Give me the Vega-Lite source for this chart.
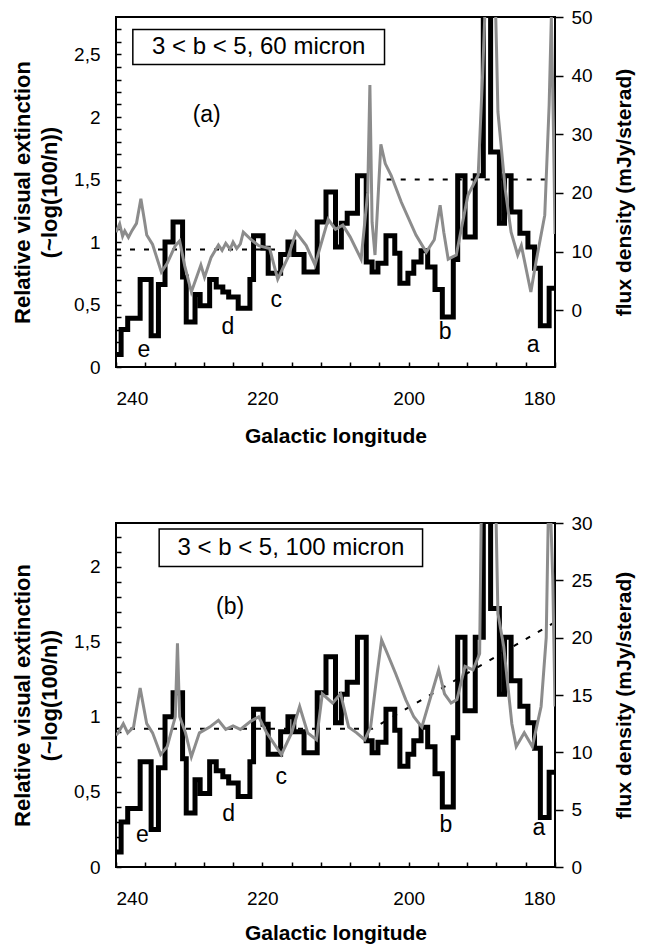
{
  "$schema": "https://vega.github.io/schema/vega-lite/v6.json",
  "padding": {"left": 10, "top": 7, "right": 0, "bottom": 0},
  "spacing": 66,
  "config": {
    "view": {"stroke": "black", "strokeWidth": 2},
    "font": "Liberation Sans",
    "axis": {"labelFont": "Liberation Sans", "titleFont": "Liberation Sans", "labelColor": "black", "titleColor": "black", "tickColor": "black", "tickWidth": 1.5, "domain": false, "grid": false, "labelFontSize": 19, "titleFontSize": 21, "titleFontWeight": "bold"}
  },
  "datasets": {
    "ext": [
      {"lon": 240, "v": 0.10}, {"lon": 239.3, "v": 0.30}, {"lon": 238.4, "v": 0.39}, {"lon": 236.7, "v": 0.70},
      {"lon": 235.2, "v": 0.25}, {"lon": 234.2, "v": 0.66}, {"lon": 233.3, "v": 1.0}, {"lon": 232.2, "v": 1.16},
      {"lon": 230.9, "v": 0.72}, {"lon": 230.4, "v": 0.36}, {"lon": 229.2, "v": 0.58}, {"lon": 228.5, "v": 0.49},
      {"lon": 227.2, "v": 0.70}, {"lon": 226.3, "v": 0.64}, {"lon": 225.4, "v": 0.60}, {"lon": 224.6, "v": 0.56},
      {"lon": 223.3, "v": 0.47}, {"lon": 221.7, "v": 0.70}, {"lon": 221.2, "v": 1.05}, {"lon": 219.9, "v": 0.95},
      {"lon": 219.2, "v": 0.75}, {"lon": 217.5, "v": 0.90}, {"lon": 216.5, "v": 1.0}, {"lon": 215.7, "v": 0.90},
      {"lon": 214.3, "v": 0.76}, {"lon": 212.5, "v": 1.16}, {"lon": 211.3, "v": 1.40}, {"lon": 210.0, "v": 0.96},
      {"lon": 209.2, "v": 1.15}, {"lon": 208.4, "v": 1.23}, {"lon": 207.0, "v": 1.53}, {"lon": 205.8, "v": 0.84},
      {"lon": 205.0, "v": 0.76}, {"lon": 204.2, "v": 0.83}, {"lon": 203.1, "v": 1.05}, {"lon": 201.9, "v": 0.91},
      {"lon": 201.2, "v": 0.67}, {"lon": 200.1, "v": 0.75}, {"lon": 199.3, "v": 0.84}, {"lon": 198.3, "v": 0.93},
      {"lon": 197.4, "v": 0.80}, {"lon": 196.4, "v": 0.62}, {"lon": 195.4, "v": 0.40}, {"lon": 193.9, "v": 0.86},
      {"lon": 193.3, "v": 1.53}, {"lon": 192.3, "v": 1.04}, {"lon": 190.9, "v": 1.53}, {"lon": 189.8, "v": 3.5},
      {"lon": 188.8, "v": 1.72}, {"lon": 187.6, "v": 1.15}, {"lon": 186.9, "v": 1.53}, {"lon": 186.0, "v": 1.24},
      {"lon": 184.8, "v": 1.07}, {"lon": 183.7, "v": 0.96}, {"lon": 182.8, "v": 0.79}, {"lon": 182.0, "v": 0.33},
      {"lon": 180.8, "v": 0.63}, {"lon": 180, "v": 0.63}
    ],
    "g60": [
      {"lon": 240, "f": 13.3}, {"lon": 239.5, "f": 14.7}, {"lon": 239.1, "f": 12.6}, {"lon": 238.8, "f": 13.5}, {"lon": 238.3, "f": 12.4}, {"lon": 237.8, "f": 13.6},
      {"lon": 237.2, "f": 14.8}, {"lon": 236.6, "f": 19.0}, {"lon": 236.1, "f": 15.2}, {"lon": 235.8, "f": 12.8}, {"lon": 235.0, "f": 11.2}, {"lon": 233.8, "f": 6.5}, {"lon": 233.0, "f": 8.0}, {"lon": 231.9, "f": 11.0},
      {"lon": 231.3, "f": 11.8}, {"lon": 230.6, "f": 7.5}, {"lon": 229.7, "f": 3.1}, {"lon": 228.4, "f": 7.7}, {"lon": 227.9, "f": 5.6},
      {"lon": 227.0, "f": 9.0}, {"lon": 226.0, "f": 11.1}, {"lon": 225.5, "f": 10.2}, {"lon": 225.0, "f": 11.4}, {"lon": 224.4, "f": 10.4}, {"lon": 224.0, "f": 11.6}, {"lon": 223.5, "f": 10.5}, {"lon": 223.0, "f": 11.3},
      {"lon": 222.6, "f": 13.3}, {"lon": 221.5, "f": 12.0}, {"lon": 220.5, "f": 11.0}, {"lon": 219.0, "f": 10.5},
      {"lon": 217.9, "f": 5.3}, {"lon": 216.5, "f": 9.0}, {"lon": 215.4, "f": 13.3}, {"lon": 214.0, "f": 11.0},
      {"lon": 212.8, "f": 7.7}, {"lon": 211.0, "f": 15.5}, {"lon": 210.0, "f": 13.8}, {"lon": 209.0, "f": 14.5},
      {"lon": 208.0, "f": 12.5}, {"lon": 206.5, "f": 8.7}, {"lon": 205.6, "f": 20.0}, {"lon": 205.3, "f": 38.4},
      {"lon": 205.0, "f": 15.0}, {"lon": 204.6, "f": 9.4}, {"lon": 203.8, "f": 28.3}, {"lon": 203.2, "f": 25.0}, {"lon": 202.4, "f": 23.0},
      {"lon": 201.0, "f": 18.4}, {"lon": 199.0, "f": 12.8}, {"lon": 197.6, "f": 9.9}, {"lon": 196.5, "f": 12.0},
      {"lon": 195.7, "f": 17.9}, {"lon": 195.2, "f": 13.3}, {"lon": 194.6, "f": 8.7}, {"lon": 193.5, "f": 9.4},
      {"lon": 191.9, "f": 19.6}, {"lon": 190.5, "f": 23.0}, {"lon": 189.9, "f": 40.0}, {"lon": 189.3, "f": 60.0},
      {"lon": 188.3, "f": 60.0}, {"lon": 188.0, "f": 45.0}, {"lon": 187.8, "f": 33.8}, {"lon": 186.8, "f": 20.6},
      {"lon": 186.0, "f": 13.3}, {"lon": 185.1, "f": 9.4}, {"lon": 184.6, "f": 11.0}, {"lon": 183.3, "f": 3.1},
      {"lon": 182.6, "f": 8.2}, {"lon": 181.4, "f": 16.2}, {"lon": 180.8, "f": 35.0}, {"lon": 180.5, "f": 50.0},
      {"lon": 180.2, "f": 30.0}, {"lon": 180.0, "f": 13.0}
    ],
    "g100": [
      {"lon": 240, "f": 11.5}, {"lon": 239.7, "f": 11.7}, {"lon": 239.0, "f": 12.5}, {"lon": 238.4, "f": 11.7},
      {"lon": 237.6, "f": 12.2}, {"lon": 236.7, "f": 15.6}, {"lon": 235.8, "f": 12.5}, {"lon": 235.0, "f": 11.7},
      {"lon": 233.9, "f": 9.8}, {"lon": 233.0, "f": 10.5}, {"lon": 231.9, "f": 13.1}, {"lon": 231.6, "f": 19.5},
      {"lon": 231.3, "f": 13.1}, {"lon": 230.5, "f": 11.7}, {"lon": 229.7, "f": 9.6}, {"lon": 228.6, "f": 11.7},
      {"lon": 227.2, "f": 12.2}, {"lon": 226.0, "f": 12.8}, {"lon": 225.0, "f": 12.0}, {"lon": 224.0, "f": 12.3},
      {"lon": 223.0, "f": 12.0}, {"lon": 221.6, "f": 12.7}, {"lon": 220.5, "f": 13.1}, {"lon": 219.4, "f": 11.7},
      {"lon": 217.4, "f": 9.8}, {"lon": 216.0, "f": 11.7}, {"lon": 214.9, "f": 14.0}, {"lon": 213.8, "f": 11.7},
      {"lon": 212.6, "f": 11.1}, {"lon": 211.8, "f": 15.1}, {"lon": 210.4, "f": 14.3}, {"lon": 209.3, "f": 15.1},
      {"lon": 208.2, "f": 12.2}, {"lon": 207.1, "f": 11.7}, {"lon": 206.0, "f": 11.1}, {"lon": 205.2, "f": 12.2},
      {"lon": 204.3, "f": 16.9}, {"lon": 203.7, "f": 19.8}, {"lon": 202.9, "f": 18.6}, {"lon": 201.8, "f": 16.9},
      {"lon": 200.4, "f": 14.6}, {"lon": 199.3, "f": 13.1}, {"lon": 198.2, "f": 12.2}, {"lon": 197.1, "f": 14.6},
      {"lon": 195.9, "f": 17.2}, {"lon": 195.1, "f": 15.1}, {"lon": 194.2, "f": 14.3}, {"lon": 193.4, "f": 14.6},
      {"lon": 192.3, "f": 17.5}, {"lon": 191.2, "f": 17.2}, {"lon": 190.3, "f": 18.6}, {"lon": 190.0, "f": 35.0},
      {"lon": 188.2, "f": 35.0}, {"lon": 187.8, "f": 22.1}, {"lon": 187.0, "f": 19.2}, {"lon": 185.9, "f": 12.5},
      {"lon": 185.3, "f": 10.5}, {"lon": 184.2, "f": 11.7}, {"lon": 183.1, "f": 10.5}, {"lon": 181.9, "f": 14.0},
      {"lon": 181.2, "f": 20.0}, {"lon": 180.8, "f": 35.0}, {"lon": 180.3, "f": 25.0}, {"lon": 180.0, "f": 14.0}
    ],
    "dash60": [
      {"lon": 240, "v": 0.94, "seg": 1}, {"lon": 218, "v": 0.94, "seg": 1},
      {"lon": 203, "v": 1.5, "seg": 2}, {"lon": 181, "v": 1.5, "seg": 2}
    ],
    "dash100": [
      {"lon": 240, "v": 0.92, "seg": 1}, {"lon": 205, "v": 0.92, "seg": 1}, {"lon": 180, "v": 1.63, "seg": 1}
    ],
    "lab60": [
      {"lon": 236.2, "v": 0.14, "t": "e"}, {"lon": 224.7, "v": 0.32, "t": "d"}, {"lon": 218.1, "v": 0.54, "t": "c"},
      {"lon": 195.0, "v": 0.28, "t": "b"}, {"lon": 183.0, "v": 0.18, "t": "a"}, {"lon": 227.6, "v": 2.02, "t": "(a)"}
    ],
    "lab100": [
      {"lon": 236.4, "v": 0.21, "t": "e"}, {"lon": 224.6, "v": 0.35, "t": "d"}, {"lon": 217.4, "v": 0.60, "t": "c"},
      {"lon": 194.9, "v": 0.28, "t": "b"}, {"lon": 182.2, "v": 0.26, "t": "a"}, {"lon": 224.4, "v": 1.73, "t": "(b)"}
    ],
    "box60": [{"lon": 237.7, "lon2": 203.3, "v": 2.42, "v2": 2.70}],
    "boxt60": [{"lon": 220.5, "v": 2.56, "t": "3 < b < 5, 60 micron"}],
    "box100": [{"lon": 234.1, "lon2": 198.1, "v": 2.0, "v2": 2.25}],
    "boxt100": [{"lon": 216.1, "v": 2.125, "t": "3 < b < 5, 100 micron"}]
  },
  "vconcat": [
    {
      "width": 439, "height": 350,
      "encoding": {
        "x": {"field": "lon", "type": "quantitative", "scale": {"domain": [180, 240], "reverse": true, "nice": false},
          "axis": {"title": "Galactic longitude", "values": [240, 236, 232, 228, 224, 220, 216, 212, 208, 204, 200, 196, 192, 188, 184, 180],
            "labelExpr": "datum.value % 20 == 0 ? datum.label : ''", "tickSize": -5, "labelPadding": 27, "titlePadding": 17}}
      },
      "layer": [
        {
          "encoding": {
            "y": {"field": "v", "type": "quantitative", "scale": {"domain": [0, 2.8], "nice": false},
              "axis": {"title": ["Relative visual extinction", "(~log(100/n))"], "titleFontSize": 22, "titleLineHeight": 27,
                "values": [0, 0.1, 0.2, 0.3, 0.4, 0.5, 0.6, 0.7, 0.8, 0.9, 1, 1.1, 1.2, 1.3, 1.4, 1.5, 1.6, 1.7, 1.8, 1.9, 2, 2.1, 2.2, 2.3, 2.4, 2.5, 2.6, 2.7],
                "labelExpr": "abs(datum.value*2 - round(datum.value*2)) < 0.01 ? replace(format(datum.value, '.2~f'), '.', ',') : ''",
                "tickSize": -5, "labelPadding": 21, "titlePadding": 12}}
          },
          "layer": [
            {
              "data": {"name": "dash60"},
              "mark": {"type": "line", "color": "black", "strokeWidth": 2, "strokeDash": [5, 9]},
              "encoding": {"detail": {"field": "seg"}, "order": {"field": "lon", "sort": "descending"}}
            },
            {
              "data": {"name": "ext"},
              "mark": {"type": "line", "interpolate": "step-after", "color": "black", "strokeWidth": 5, "clip": true, "strokeJoin": "miter"},
              "encoding": {"order": {"field": "lon", "sort": "descending"}}
            },
            {
              "data": {"name": "box60"},
              "mark": {"type": "rect", "fill": "white", "stroke": "black", "strokeWidth": 1.5},
              "encoding": {"x2": {"field": "lon2"}, "y2": {"field": "v2"}}
            },
            {
              "data": {"name": "boxt60"},
              "mark": {"type": "text", "fontSize": 24, "font": "Liberation Sans", "color": "black", "align": "center", "baseline": "middle"},
              "encoding": {"text": {"field": "t"}}
            },
            {
              "data": {"name": "lab60"},
              "mark": {"type": "text", "fontSize": 23, "font": "Liberation Sans", "color": "black", "align": "center", "baseline": "middle"},
              "encoding": {"text": {"field": "t"}}
            }
          ]
        },
        {
          "data": {"name": "g60"},
          "mark": {"type": "line", "color": "#8c8c8c", "strokeWidth": 3, "clip": true},
          "encoding": {
            "y": {"field": "f", "type": "quantitative", "scale": {"domain": [-9.7, 50], "nice": false, "zero": false},
              "axis": {"orient": "right", "title": "flux density (mJy/sterad)", "values": [0, 10, 20, 30, 40, 50],
                "tickSize": 8, "labelPadding": 8, "titleAngle": 270, "titleBaseline": "top", "titlePadding": 21}},
            "order": {"field": "lon", "sort": "descending"}
          }
        }
      ],
      "resolve": {"scale": {"y": "independent"}}
    },
    {
      "width": 439, "height": 344,
      "encoding": {
        "x": {"field": "lon", "type": "quantitative", "scale": {"domain": [180, 240], "reverse": true, "nice": false},
          "axis": {"title": "Galactic longitude", "values": [240, 236, 232, 228, 224, 220, 216, 212, 208, 204, 200, 196, 192, 188, 184, 180],
            "labelExpr": "datum.value % 20 == 0 ? datum.label : ''", "tickSize": -5, "labelPadding": 27, "titlePadding": 14}}
      },
      "layer": [
        {
          "encoding": {
            "y": {"field": "v", "type": "quantitative", "scale": {"domain": [0, 2.29], "nice": false},
              "axis": {"title": ["Relative visual extinction", "(~log(100/n))"], "titleFontSize": 22, "titleLineHeight": 27,
                "values": [0, 0.1, 0.2, 0.3, 0.4, 0.5, 0.6, 0.7, 0.8, 0.9, 1, 1.1, 1.2, 1.3, 1.4, 1.5, 1.6, 1.7, 1.8, 1.9, 2, 2.1, 2.2],
                "labelExpr": "abs(datum.value*2 - round(datum.value*2)) < 0.01 ? replace(format(datum.value, '.2~f'), '.', ',') : ''",
                "tickSize": -5, "labelPadding": 21, "titlePadding": 12}}
          },
          "layer": [
            {
              "data": {"name": "dash100"},
              "mark": {"type": "line", "color": "black", "strokeWidth": 2, "strokeDash": [5, 9]},
              "encoding": {"detail": {"field": "seg"}, "order": {"field": "lon", "sort": "descending"}}
            },
            {
              "data": {"name": "ext"},
              "mark": {"type": "line", "interpolate": "step-after", "color": "black", "strokeWidth": 5, "clip": true, "strokeJoin": "miter"},
              "encoding": {"order": {"field": "lon", "sort": "descending"}}
            },
            {
              "data": {"name": "box100"},
              "mark": {"type": "rect", "fill": "white", "stroke": "black", "strokeWidth": 1.5},
              "encoding": {"x2": {"field": "lon2"}, "y2": {"field": "v2"}}
            },
            {
              "data": {"name": "boxt100"},
              "mark": {"type": "text", "fontSize": 24, "font": "Liberation Sans", "color": "black", "align": "center", "baseline": "middle"},
              "encoding": {"text": {"field": "t"}}
            },
            {
              "data": {"name": "lab100"},
              "mark": {"type": "text", "fontSize": 23, "font": "Liberation Sans", "color": "black", "align": "center", "baseline": "middle"},
              "encoding": {"text": {"field": "t"}}
            }
          ]
        },
        {
          "data": {"name": "g100"},
          "mark": {"type": "line", "color": "#8c8c8c", "strokeWidth": 3, "clip": true},
          "encoding": {
            "y": {"field": "f", "type": "quantitative", "scale": {"domain": [0, 30], "nice": false},
              "axis": {"orient": "right", "title": "flux density (mJy/sterad)", "values": [0, 5, 10, 15, 20, 25, 30],
                "tickSize": 8, "labelPadding": 8, "titleAngle": 270, "titleBaseline": "top", "titlePadding": 21}},
            "order": {"field": "lon", "sort": "descending"}
          }
        }
      ],
      "resolve": {"scale": {"y": "independent"}}
    }
  ]
}
